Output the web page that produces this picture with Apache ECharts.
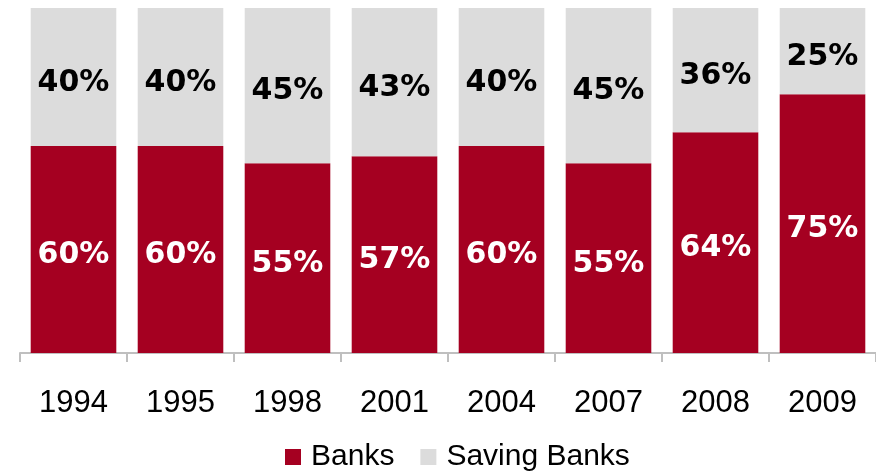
<!DOCTYPE html>
<html>
<head>
<meta charset="utf-8">
<script src="https://cdn.jsdelivr.net/npm/echarts@6/dist/echarts.min.js"></script>
<style>
  html, body { margin: 0; padding: 0; background: #fff; }
  #chart { width: 876px; height: 476px; }
</style>
</head>
<body>
<div id="chart"></div>
<script>
const years = ['1994', '1995', '1998', '2001', '2004', '2007', '2008', '2009'];
const banks = [60, 60, 55, 57, 60, 55, 64, 75];
const savingBanks = [40, 40, 45, 43, 40, 45, 36, 25];

const chart = echarts.init(document.getElementById('chart'));

// shared look for the percentage labels inside the bars
const labelFont = {
  show: true,
  position: 'inside',
  offset: [0, 6],
  formatter: '{c}%',
  fontFamily: 'DejaVu Sans',
  fontWeight: 'bold',
  fontSize: 30,
};

chart.setOption({
  animation: false,
  grid: { left: 20, right: 0, top: 8, bottom: 123 },
  legend: {
    data: ['Banks', 'Saving Banks'],
    left: 280,
    top: 437,
    itemWidth: 16,
    itemHeight: 16,
    itemGap: 26,
    icon: 'rect',
    textStyle: {
      fontFamily: 'Liberation Sans',
      fontSize: 30,
      color: '#000',
      padding: [0, 0, 0, 5],
    },
  },
  xAxis: {
    type: 'category',
    data: years,
    axisLine: { lineStyle: { color: '#BFBFBF', width: 2 } },
    axisTick: {
      show: true,
      alignWithLabel: false,
      length: 9,
      lineStyle: { color: '#BFBFBF', width: 2 },
    },
    axisLabel: {
      margin: 35,
      fontFamily: 'Liberation Sans',
      fontSize: 31,
      color: '#000',
    },
  },
  yAxis: {
    type: 'value',
    min: 0,
    max: 100,
    show: false,
  },
  series: [
    {
      name: 'Banks',
      type: 'bar',
      stack: 'total',
      data: banks,
      barCategoryGap: '20%',
      itemStyle: { color: '#A50021' },
      label: { ...labelFont, color: '#fff' },
    },
    {
      name: 'Saving Banks',
      type: 'bar',
      stack: 'total',
      data: savingBanks,
      barCategoryGap: '20%',
      itemStyle: { color: '#DCDCDC' },
      label: { ...labelFont, color: '#000' },
    },
  ],
});
</script>
</body>
</html>
